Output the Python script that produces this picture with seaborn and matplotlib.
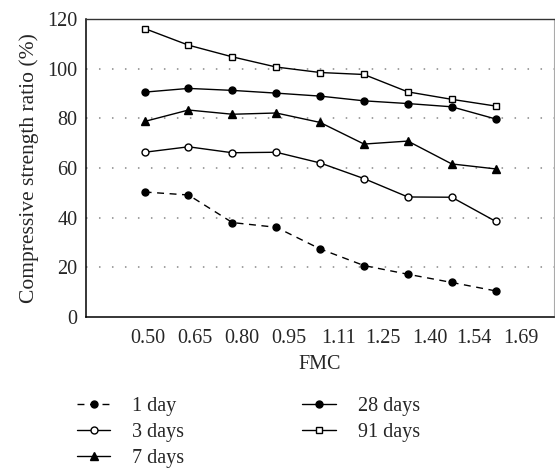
import matplotlib
matplotlib.use('Agg')
import matplotlib.pyplot as plt
import seaborn as sns
import pandas as pd

# FMC positions of the points and axis tick labels
fmc = [0.49, 0.63, 0.77, 0.91, 1.05, 1.19, 1.33, 1.47, 1.61]
fmc_ticks = [0.50, 0.65, 0.80, 0.95, 1.11, 1.25, 1.40, 1.54, 1.69]
fmc_tick_labels = ['0.50', '0.65', '0.80', '0.95', '1.11', '1.25', '1.40', '1.54', '1.69']

# compressive strength ratio (%) per curing age
day1 = [50.3, 49.1, 38.0, 36.1, 27.4, 20.7, 17.2, 13.9, 10.5]
day3 = [66.3, 68.5, 66.1, 66.3, 62.0, 55.7, 48.3, 48.2, 38.5]
day7 = [78.7, 83.3, 81.6, 82.1, 78.3, 69.6, 70.8, 61.6, 59.6]
day28 = [90.5, 92.0, 91.2, 90.1, 88.9, 87.0, 85.9, 84.6, 79.7]
day91 = [116.1, 109.4, 104.7, 100.6, 98.4, 97.6, 90.6, 87.6, 84.9]

series_names = ['1 day', '3 days', '7 days', '28 days', '91 days']
series_values = [day1, day3, day7, day28, day91]

# style of each curve
styles = {
    '1 day': dict(marker='o', ms=5.0, mfc='black', ls=(0, (5, 4))),
    '3 days': dict(marker='o', ms=5.0, mfc='white', ls='-'),
    '7 days': dict(marker='^', ms=6.0, mfc='black', ls='-'),
    '28 days': dict(marker='o', ms=5.0, mfc='black', ls='-'),
    '91 days': dict(marker='s', ms=4.8, mfc='white', ls='-'),
}

FS = 14.5

sns.set_style('white')
plt.rcParams['font.family'] = ['Liberation Serif', 'DejaVu Serif']

fig = plt.figure(figsize=(5.55, 4.71), dpi=100)
ax = fig.add_axes([0.155, 0.327, 0.843, 0.633])

for name, vals in zip(series_names, series_values):
    df = pd.DataFrame({'FMC': fmc, 'ratio': vals})
    st = styles[name]
    sns.lineplot(data=df, x='FMC', y='ratio', ax=ax, color='black', lw=1.0,
                 marker=st['marker'], markersize=st['ms'],
                 markerfacecolor=st['mfc'], markeredgecolor='black',
                 markeredgewidth=1.0, linestyle=st['ls'], label=name)

ax.set_xlim(0.303, 1.796)
ax.set_ylim(0, 120)
ax.set_xticks(fmc_ticks)
ax.set_xticklabels(fmc_tick_labels)
ax.set_yticks([0, 20, 40, 60, 80, 100, 120])

for yv in [20, 40, 60, 80, 100]:
    ax.axhline(yv, color='#888888', lw=1.1, ls=(0, (1, 7.5)), zorder=0)

ax.tick_params(axis='x', direction='in', length=5.5, width=1.0, pad=9,
               labelsize=FS, color='black')
ax.tick_params(axis='y', direction='in', length=3, width=1.0, pad=6,
               labelsize=FS, color='black')

ax.set_xlabel('FMC', fontsize=FS, labelpad=5)
ax.set_ylabel('Compressive strength ratio (%)', fontsize=15.5, labelpad=6)

for side in ['left', 'bottom']:
    ax.spines[side].set_color('black')
    ax.spines[side].set_linewidth(1.1)
ax.spines['top'].set_color('#333333')
ax.spines['top'].set_linewidth(1.0)
ax.spines['right'].set_color('#aaaaaa')
ax.spines['right'].set_linewidth(0.8)

handles, labels = ax.get_legend_handles_labels()
ax.legend(handles, labels, ncol=2, frameon=False, fontsize=FS,
          loc='upper left', bbox_to_anchor=(77 / 555, 1 - 397 / 471),
          bbox_transform=fig.transFigure, borderpad=0, borderaxespad=0,
          handlelength=1.65, handletextpad=1.1, columnspacing=5.85,
          labelspacing=0.35)

fig.savefig('out.png', dpi=100)
